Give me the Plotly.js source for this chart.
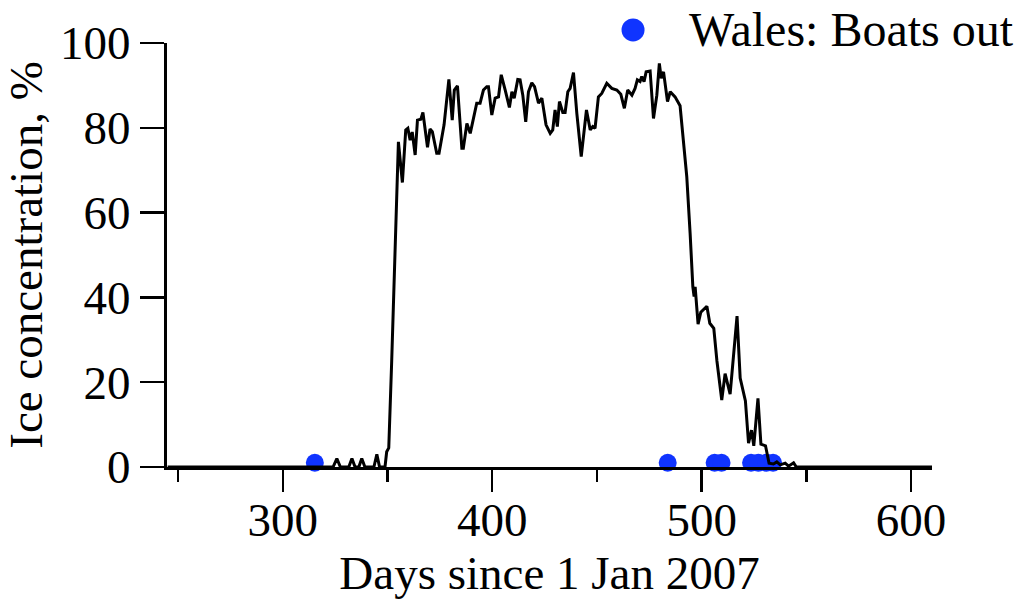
<!DOCTYPE html>
<html>
<head>
<meta charset="utf-8">
<script src="https://cdn.plot.ly/plotly-3.0.1.min.js"></script>
<style>html,body{margin:0;padding:0;background:#fff;}#chart{width:1023px;height:599px;}</style>
</head>
<body>
<div id="chart"></div>
<script>
// Ice concentration (%) vs days since 1 Jan 2007
const iceDays = [245,324,325.8,327.5,331.5,333,334.5,336.3,337.7,339.2,343.5,344.9,346.2,348.8,349.6,350.6,352,353.5,354.4,355.2,357.1,358.7,359.7,360.8,361.8,363.2,364.3,365.9,366.9,369.1,370.3,371.4,373.5,374.6,377,379.3,380.9,381.9,383.4,385.5,386.2,387.9,389.5,391.8,392.6,394.2,395.8,397.4,398.2,399.8,401.4,403,404.3,406.2,408.2,409.4,410.5,412.2,413.3,414.6,416,417.3,418.9,420.2,422.1,423.7,425.7,427.7,428.9,430,431.1,432.1,433.7,434.8,436.1,437.2,438.8,440.4,442.5,445,446.8,448,449.1,450.7,452.3,454.7,457.1,459.5,461.4,463.1,464.7,466.7,468.2,469.3,470.6,471.4,472.5,473.5,475.4,477,478.6,479.8,480.7,481.8,483.7,485,487.3,489.7,491.3,492.9,494.5,495.8,496.4,496.9,498.3,499.6,502.5,503.9,505.8,507.3,509.6,511.2,513.6,516.9,518.4,520.9,522.4,523.8,524.9,526.9,528.3,530.5,532.2,534.3,535.9,537.5,539.9,541.5,543.9,545.2,610];
const iceConc = [0,0,2,0,0,2,0,0,2,0,0,3,0,0,3.6,4.5,25,50,62,76.7,67.1,79.5,79.9,77.1,79,73.6,81.8,82,83.6,75.4,79.7,79.1,74,74,80.7,91.4,81.8,88.9,89.9,75.2,75.2,81,78.7,84.2,85.8,85.8,88.9,89.7,89.7,83,87,87.3,92.5,88.9,84.8,88.5,87,91.4,91.3,87.7,81.4,88.5,90.6,89.7,85.8,87,80.7,78.7,79.5,84.2,80.3,86.2,83.6,83.6,88.5,89.3,93,83.4,73.2,84.2,79.5,80.3,79.9,87.3,88.1,90.5,89.3,88.9,87.9,84.6,88.9,87.7,89.3,91.3,90.9,92.1,90.9,93.2,93.4,82.2,87.7,95.2,91.7,93.2,86.2,88.5,87.3,85.2,76.3,68.5,55.1,42.5,40.2,42.5,33.7,36.5,37.9,33.9,32.7,25,15.8,22,17.2,35.6,21,15.6,5.6,8.7,5,16.2,5.4,5,0.9,0.7,1.2,0.5,0.9,0.2,1,0,0];

// Wales: days boats went out
const boatDays = [315.3, 483.8, 506.2, 509.5, 523.6, 527, 531, 534.1];
const boatConc = [1, 1, 1, 1, 1, 1, 1, 1];

const xTickVals = [300, 400, 500, 600];
const yTickVals = [0, 20, 40, 60, 80, 100];
const legendLabel = 'Wales: Boats out';

const FONT = 'Liberation Serif, Times New Roman, serif';
const BLUE = '#1034ff';

const traces = [
  {
    x: boatDays, y: boatConc, type: 'scatter', mode: 'markers',
    name: legendLabel,
    marker: {color: BLUE, size: 18},
    cliponaxis: false,
    showlegend: false
  },
  {
    x: iceDays, y: iceConc, type: 'scatter', mode: 'lines',
    name: 'Ice concentration',
    line: {color: '#000', width: 3},
    cliponaxis: false,
    showlegend: false
  }
];

// legend drawn as a paper-anchored marker + text (keeps plot margins fixed)
const legY = 1.0307;
const layout = {
  width: 1023, height: 599,
  margin: {l: 167, r: 91, t: 43, b: 132},
  paper_bgcolor: '#fff', plot_bgcolor: '#fff',
  font: {family: FONT, size: 47, color: '#000'},
  showlegend: false,
  shapes: [{
    type: 'circle', xref: 'paper', yref: 'paper',
    xsizemode: 'pixel', ysizemode: 'pixel',
    xanchor: 0.6092, yanchor: legY,
    x0: -11.5, x1: 11.5, y0: -11.5, y1: 11.5,
    fillcolor: BLUE, line: {width: 0}
  }],
  annotations: [{
    text: legendLabel, xref: 'paper', yref: 'paper',
    x: 0.681, y: legY, xanchor: 'left', yanchor: 'middle',
    showarrow: false, borderpad: 0,
    font: {family: FONT, size: 48, color: '#000'}
  }],
  xaxis: {
    range: [244.7, 610],
    tickmode: 'array', tickvals: xTickVals,
    ticks: 'outside', ticklen: 22, tickwidth: 2.5, tickcolor: '#000',
    ticklabelstandoff: -12,
    minor: {tick0: 0, dtick: 50, ticks: 'outside', ticklen: 12, tickwidth: 2.5, tickcolor: '#000', showgrid: false},
    showline: true, linecolor: '#000', linewidth: 3,
    showgrid: false, zeroline: false,
    tickfont: {family: FONT, size: 47, color: '#000'},
    title: {text: 'Days since 1 Jan 2007', font: {family: FONT, size: 47, color: '#000'}, standoff: 16}
  },
  yaxis: {
    range: [0, 100],
    tickmode: 'array', tickvals: yTickVals,
    ticks: 'outside', ticklen: 24, tickwidth: 2.5, tickcolor: '#000',
    showline: true, linecolor: '#000', linewidth: 3,
    showgrid: false, zeroline: false,
    tickfont: {family: FONT, size: 47, color: '#000'},
    title: {text: 'Ice concentration, %', font: {family: FONT, size: 47, color: '#000'}, standoff: 5}
  }
};

Plotly.newPlot('chart', traces, layout, {displayModeBar: false, staticPlot: true});
</script>
</body>
</html>
